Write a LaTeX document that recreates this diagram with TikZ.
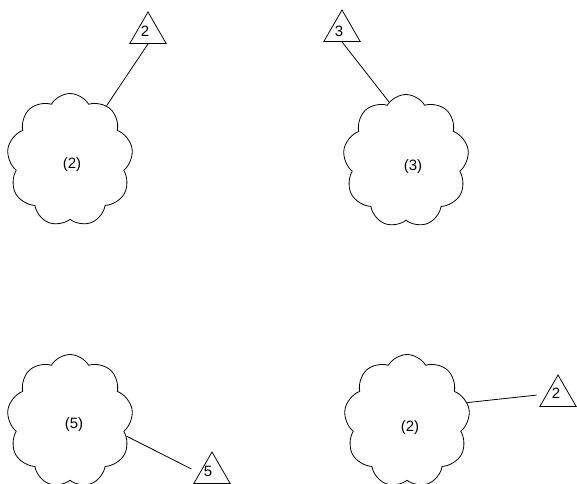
\documentclass[tikz,border=0pt]{standalone}
\usepackage{fontspec}
\setmainfont{Liberation Sans}
\usetikzlibrary{shapes.symbols,shapes.geometric}
\begin{document}
\begin{tikzpicture}[x=1pt,y=-1pt,line width=0.8pt,
  cloudbox/.style={draw,cloud,cloud puffs=9,cloud puff arc=120,aspect=1,
    minimum width=126pt,minimum height=133pt,inner sep=0pt},
  tribox/.style={draw,regular polygon,regular polygon sides=3,minimum size=42pt,inner sep=0pt},
  trilbl/.style={font=\fontsize{15}{15}\selectfont,inner sep=0pt},
  lbl/.style={font=\fontsize{15}{15}\selectfont,inner sep=0pt}]
\useasboundingbox (0,0) rectangle (577,483);
% clouds
\node[cloudbox] (c1) at (70,160) {};
\node[cloudbox] (c2) at (406,161) {};
\node[cloudbox] (c3) at (70,421) {};
\node[cloudbox] (c4) at (407,421) {};
% labels
\node[lbl] (l1) at (72,165) {(2)};
\node[lbl] (l2) at (413,167) {(3)};
\node[lbl] (l3) at (74,425) {(5)};
\node[lbl] (l4) at (410,428) {(2)};
% triangles
\node[tribox] (t1) at (148,33) {};
\node[tribox] (t2) at (342,31) {};
\node[tribox] (t3) at (212,473) {};
\node[tribox] (t4) at (558,396) {};
\node[trilbl] (n1) at (145,31) {2};
\node[trilbl] (n2) at (339,31) {3};
\node[trilbl] (n3) at (208,471) {5};
\node[trilbl] (n4) at (556,393) {2};
% connectors
\draw (t1.south) -- (c1.56);
\draw (t2.south) -- (c2.106);
\draw[shorten >=9pt] (c3.-15) -- (t3.west);
\draw[shorten >=10pt] (c4.17) -- (t4.170);
\end{tikzpicture}
\end{document}
